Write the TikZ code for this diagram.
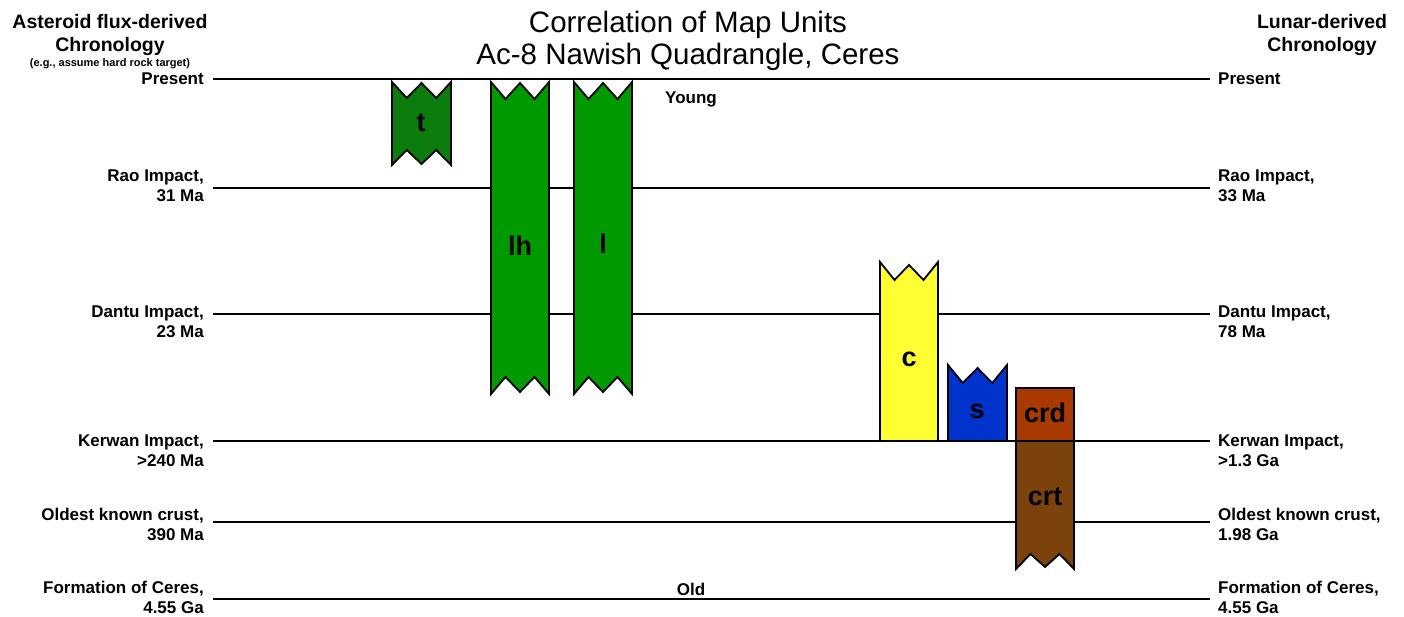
\documentclass[tikz,border=0pt]{standalone}
\usepackage{fontspec}
\setmainfont{Liberation Sans}
\usetikzlibrary{positioning}
\definecolor{tgreen}{RGB}{12,125,12}
\definecolor{lgreen}{RGB}{0,153,0}
\definecolor{cyellow}{RGB}{255,255,51}
\definecolor{sblue}{RGB}{0,51,204}
\definecolor{crdred}{RGB}{168,58,0}
\definecolor{crtbrown}{RGB}{124,66,12}
\tikzset{
  epoch/.style={line width=2pt},
  unit/.style={draw=black, line width=1.8pt, line join=miter},
  agel/.style={font=\fontsize{17}{20}\selectfont\bfseries, align=right, anchor=east, inner sep=0pt},
  ager/.style={font=\fontsize{17}{20}\selectfont\bfseries, align=left, anchor=west, inner sep=0pt},
  head/.style={font=\fontsize{19.5}{23}\selectfont\bfseries, align=center, inner sep=0pt},
  unitlbl/.style={font=\fontsize{27}{27}\selectfont\bfseries, inner sep=0pt}
}
\begin{document}
\begin{tikzpicture}[x=1pt, y=-1pt]
  \useasboundingbox (0,0) rectangle (1404,617);

  % titles
  \node[font=\fontsize{29.5}{32}\selectfont, align=center, inner sep=0pt] (title) at (688,41) {Correlation of Map Units\\Ac-8 Nawish Quadrangle, Ceres};
  \node[head] (lefthead) at (110,35) {Asteroid flux-derived\\Chronology};
  \node[font=\fontsize{11}{13}\selectfont\bfseries, inner sep=0pt] (leftnote) at (110,64) {(e.g., assume hard rock target)};
  \node[head] (righthead) at (1322,35) {Lunar-derived\\Chronology};

  % time lines
  \coordinate (presL) at (213,79);  \coordinate (presR) at (1210,79);
  \coordinate (raoL) at (213,188);  \coordinate (raoR) at (1210,188);
  \coordinate (dantuL) at (213,314); \coordinate (dantuR) at (1210,314);
  \coordinate (kerL) at (213,441);  \coordinate (kerR) at (1210,441);
  \coordinate (oldL) at (213,522);  \coordinate (oldR) at (1210,522);
  \coordinate (formL) at (213,599); \coordinate (formR) at (1210,599);
  \draw[epoch] (presL) -- (presR);
  \draw[epoch] (raoL) -- (raoR);
  \draw[epoch] (dantuL) -- (dantuR);
  \draw[epoch] (kerL) -- (kerR);
  \draw[epoch] (oldL) -- (oldR);
  \draw[epoch] (formL) -- (formR);

  % asteroid flux ages
  \node[agel] (lpres) at (204,79) {Present};
  \node[agel] (lrao) at (204,186) {Rao Impact,\\31 Ma};
  \node[agel] (ldantu) at (204,322) {Dantu Impact,\\23 Ma};
  \node[agel] (lker) at (204,451) {Kerwan Impact,\\>240 Ma};
  \node[agel] (lold) at (204,524) {Oldest known crust,\\390 Ma};
  \node[agel] (lform) at (204,597) {Formation of Ceres,\\4.55 Ga};

  % lunar ages
  \node[ager] (rpres) at (1218,79) {Present};
  \node[ager] (rrao) at (1218,186) {Rao Impact,\\33 Ma};
  \node[ager] (rdantu) at (1218,322) {Dantu Impact,\\78 Ma};
  \node[ager] (rker) at (1218,451) {Kerwan Impact,\\>1.3 Ga};
  \node[ager] (rold) at (1218,524) {Oldest known crust,\\1.98 Ga};
  \node[ager] (rform) at (1218,597) {Formation of Ceres,\\4.55 Ga};

  \node[font=\fontsize{17}{20}\selectfont\bfseries, inner sep=0pt] (young) at (691,99) {Young};
  \node[font=\fontsize{17}{20}\selectfont\bfseries, inner sep=0pt] (old) at (691,589) {Old};

  % map units
  \draw[unit, fill=tgreen] (392,82) -- (406.75,98) -- (421.5,83) -- (436.25,98) -- (451,82) -- (451,165) -- (436.25,150) -- (421.5,164) -- (406.75,150) -- (392,165) -- cycle;
  \node[unitlbl] (t) at (421,123) {t};

  \draw[unit, fill=lgreen] (491,82) -- (505.5,99) -- (520,83) -- (534.5,99) -- (549,82) -- (549,394) -- (534.5,377) -- (520,392) -- (505.5,377) -- (491,394) -- cycle;
  \node[unitlbl] (lh) at (520,246) {lh};

  \draw[unit, fill=lgreen] (574,82) -- (588.5,99) -- (603,83) -- (617.5,99) -- (632,82) -- (632,394) -- (617.5,377) -- (603,392) -- (588.5,377) -- (574,394) -- cycle;
  \node[unitlbl] (l) at (603,244) {l};

  \draw[unit, fill=cyellow] (880,262) -- (894.5,280) -- (909,265) -- (923.5,280) -- (938,262) -- (938,441) -- (880,441) -- cycle;
  \node[unitlbl] (c) at (909,359) {c};

  \draw[unit, fill=sblue] (948,365) -- (962.75,383) -- (977.5,368) -- (992.25,383) -- (1007,365) -- (1007,441) -- (948,441) -- cycle;
  \node[unitlbl] (s) at (977,411) {s};

  \draw[unit, fill=crtbrown] (1016,441) -- (1074,441) -- (1074,569) -- (1059.5,554) -- (1045,567) -- (1030.5,554) -- (1016,569) -- cycle;
  \node[unitlbl] (crt) at (1045,497) {crt};

  \draw[unit, fill=crdred] (1016,388) rectangle (1074,441);
  \node[unitlbl] (crd) at (1045,413) {crd};
\end{tikzpicture}
\end{document}
